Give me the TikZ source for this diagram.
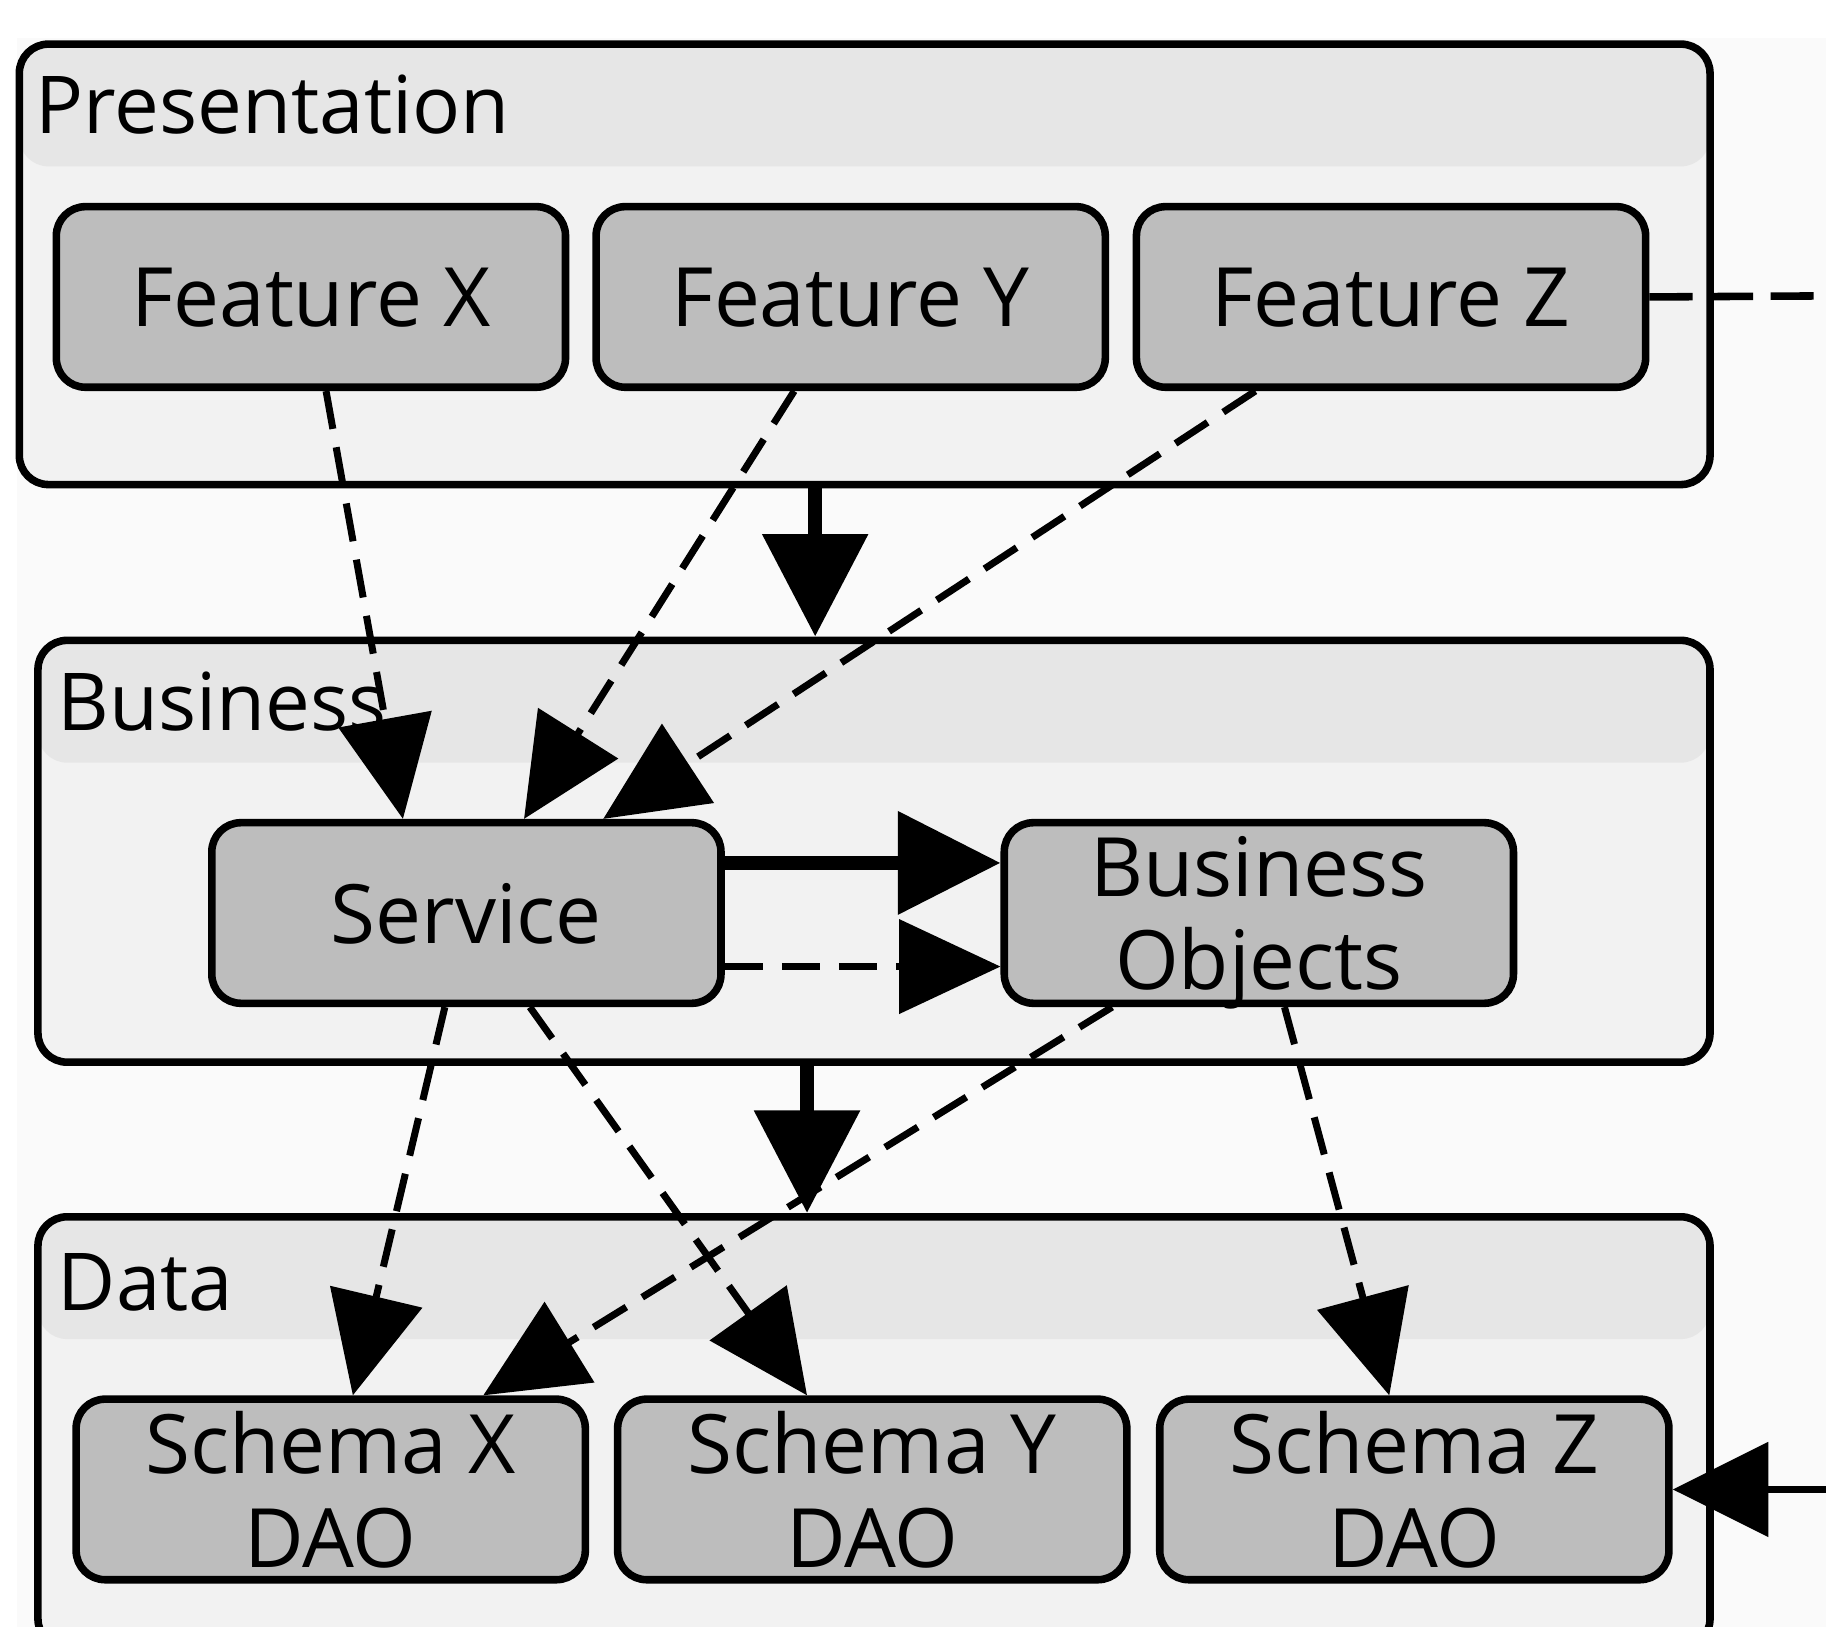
\documentclass[tikz,border=0pt]{standalone}
\usepackage{fontspec}
\setmainfont{Open Sans}
\usetikzlibrary{arrows.meta,calc}
\definecolor{bgc}{HTML}{FAFAFA}
\definecolor{hdrc}{HTML}{E6E6E6}
\definecolor{bodyc}{HTML}{F2F2F2}
\definecolor{nodec}{HTML}{BDBDBD}
\begin{document}
\begin{tikzpicture}[x=0.01cm,y=-0.01cm,
  layer/.style={draw, line width=0.065cm, rounded corners=0.25cm, fill=bodyc, inner sep=0pt,
    path picture={\fill[hdrc] (path picture bounding box.north west) rectangle ($(path picture bounding box.north east)+(0,105)$);}},
  comp/.style={draw, line width=0.065cm, rounded corners=0.25cm, fill=nodec, align=center, inner sep=0pt,
    minimum width=4.37cm, minimum height=1.55cm, text depth=0pt, font=\fontsize{20}{22.76}\selectfont},
  ttl/.style={anchor=base west, inner sep=0pt, font=\fontsize{19.5}{22}\selectfont},
  dep/.style={line width=0.06cm, dash pattern=on 0.33cm off 0.16cm, -{Triangle[length=0.87cm,width=0.8cm]}},
  flow/.style={line width=0.125cm, -{Triangle[length=0.88cm,width=0.88cm]}},
  call/.style={line width=0.115cm, -{Triangle[length=0.88cm,width=0.86cm]}},
  ext/.style={line width=0.065cm},
]
\useasboundingbox (0,0) rectangle (1568,1397);
\fill[bgc] (15,33) rectangle (1568,1397);

% layers
\node[layer, minimum width=14.51cm, minimum height=3.78cm] (P) at (742.5,227) {};
\node[layer, minimum width=14.35cm, minimum height=3.62cm] (B) at (750.5,731) {};
\node[layer, minimum width=14.35cm, minimum height=3.70cm] (D) at (750.5,1230) {};

\node[ttl] (tP) at (30,115) {Presentation};
\node[ttl] (tB) at (49,627) {Business};
\node[ttl] (tD) at (49,1125) {Data};

% components
\node[comp] (FX) at (267,255) {Feature X};
\node[comp] (FY) at (730.5,255) {Feature Y};
\node[comp] (FZ) at (1194.5,255) {Feature Z};
\node[comp] (S) at (400.5,784) {Service};
\node[comp] (BO) at (1081,784) {Business\\Objects};
\node[comp] (SX) at (284,1279) {Schema X\\DAO};
\node[comp] (SY) at (749,1279) {Schema Y\\DAO};
\node[comp] (SZ) at (1214.5,1279) {Schema Z\\DAO};

\coordinate (outR) at (1580,254);
\coordinate (inR) at (1580,1279);

% layer flows
\draw[flow] ($(P.south)+(-42.5,0)$) -- ($(B.north)+(-50.5,0)$);
\draw[flow] ($(B.south)+(-57.5,0)$) -- ($(D.north)+(-57.5,0)$);

% dependencies
\draw[dep] ($(FX.south)+(13,0)$) -- ($(S.north)+(-54.5,0)$);
\draw[dep] ($(FY.south)+(-48.5,0)$) -- ($(S.north)+(49.5,0)$);
\draw[dep] ($(FZ.south)+(-116.5,0)$) -- ($(S.north)+(117.5,0)$);
\draw[call] ($(S.east)+(0,-43)$) -- ($(BO.west)+(0,-43)$);
\draw[dep] ($(S.east)+(0,46)$) -- ($(BO.west)+(0,46)$);
\draw[dep] ($(S.south)+(-18.5,0)$) -- ($(SX.north)+(19,0)$);
\draw[dep] ($(S.south)+(54.5,0)$) -- ($(SY.north)+(-56,0)$);
\draw[dep] ($(BO.south)+(-126,0)$) -- ($(SX.north)+(131,0)$);
\draw[dep] ($(BO.south)+(22,0)$) -- ($(SZ.north)+(-21.5,0)$);

% external
\draw[ext, dash pattern=on 0.37cm off 0.15cm] (FZ.east) -- (outR);
\draw[ext, -{Triangle[length=0.82cm,width=0.8cm]}] (inR) -- (SZ.east);
\end{tikzpicture}
\end{document}
